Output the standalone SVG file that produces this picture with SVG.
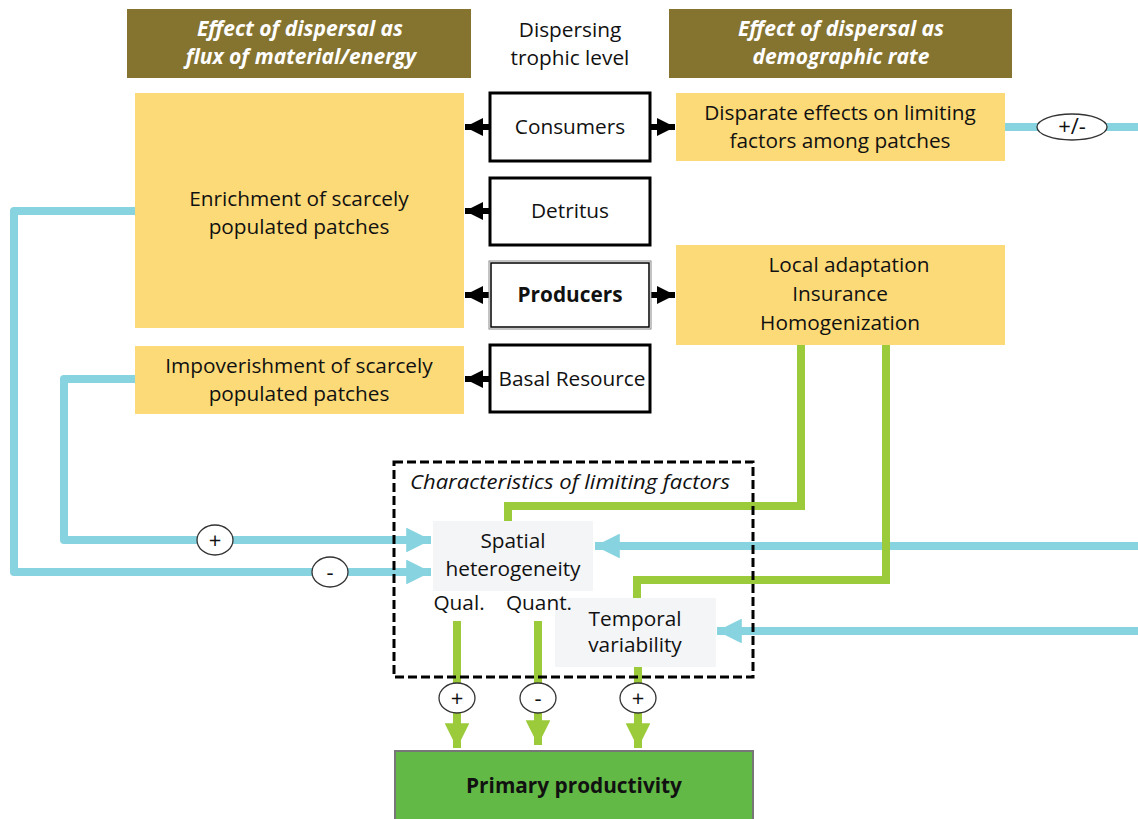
<svg xmlns="http://www.w3.org/2000/svg" width="1138" height="819" viewBox="0 0 1138 819">
<style>
text{font-family:"Open Sans","Noto Sans","Liberation Sans",sans-serif;font-size:20.8px;fill:#111;text-anchor:middle}
.hdr{fill:#857330}
.hdrt{fill:#fff;font-weight:bold;font-style:italic;font-size:21px}
.yel{fill:#FCDA78}
.lvl{fill:#fff;stroke:#000;stroke-width:3}
.gray{fill:#F4F5F7}
.blue{fill:none;stroke:#87D3DF;stroke-width:8}
.green{fill:none;stroke:#9BCB3B;stroke-width:8}
.blk{fill:none;stroke:#000;stroke-width:6}
.oval{fill:#fff;stroke:#333;stroke-width:1.3}
.sign{font-size:22px}
</style>
<defs>
<marker id="ab" viewBox="0 0 10 10" refX="10" refY="5" markerWidth="3" markerHeight="3" orient="auto" markerUnits="strokeWidth"><path d="M0,0L10,5L0,10z" fill="#000"/></marker>
<marker id="ablue" viewBox="0 0 10 10" refX="10" refY="5" markerWidth="3.1" markerHeight="3.1" orient="auto" markerUnits="strokeWidth"><path d="M0,0L10,5L0,10z" fill="#87D3DF"/></marker>
<marker id="agreen" viewBox="0 0 10 10" refX="10" refY="5" markerWidth="3.2" markerHeight="3.1" orient="auto" markerUnits="strokeWidth"><path d="M0,0L10,5L0,10z" fill="#9BCB3B"/></marker>
</defs>

<g id="header-flux"><rect class="hdr" x="127" y="9" width="344" height="69"/><text class="hdrt" x="300" y="36">Effect of dispersal as</text><text class="hdrt" x="301" y="64">flux of material/energy</text></g>
<g id="header-level"><text x="570" y="37">Dispersing</text><text x="570" y="65">trophic level</text></g>
<g id="header-demo"><rect class="hdr" x="669" y="9" width="343" height="69"/><text class="hdrt" x="841" y="36">Effect of dispersal as</text><text class="hdrt" x="841" y="64">demographic rate</text></g>

<g id="connectors">
<path class="blk" d="M489,127H465" marker-end="url(#ab)"/>
<path class="blk" d="M651,127H675" marker-end="url(#ab)"/>
<path class="blk" d="M489,211H465" marker-end="url(#ab)"/>
<path class="blk" d="M489,295H465" marker-end="url(#ab)"/>
<path class="blk" d="M651,295H675" marker-end="url(#ab)"/>
<path class="blk" d="M489,379H465" marker-end="url(#ab)"/>
<path class="blue" d="M1005,127H1138"/>
<path class="blue" d="M135,211H14V572H431" stroke-linejoin="round" marker-end="url(#ablue)"/>
<path class="blue" d="M135,379H64V540H431" stroke-linejoin="round" marker-end="url(#ablue)"/>
<path class="blue" d="M1138,546H595" marker-end="url(#ablue)"/>
<path class="blue" d="M1138,631H717" marker-end="url(#ablue)"/>
<path class="green" d="M801,345V506H508V521"/>
<path class="green" d="M886,345V580H637V598"/>
<path class="green" d="M457,621V748" marker-end="url(#agreen)"/>
<path class="green" d="M538,621V745" marker-end="url(#agreen)"/>
<path class="green" d="M638,667V748" marker-end="url(#agreen)"/>
<ellipse class="oval" cx="1072" cy="127" rx="35" ry="13"/><text class="sign" x="1072" y="134">+/-</text>
<ellipse class="oval" cx="215" cy="540" rx="18" ry="15"/><text class="sign" x="215" y="548">+</text>
<ellipse class="oval" cx="330" cy="572" rx="18" ry="15"/><text class="sign" x="330" y="580">-</text>
<ellipse class="oval" cx="457" cy="698" rx="18" ry="15"/><text class="sign" x="457" y="706">+</text>
<ellipse class="oval" cx="538" cy="698" rx="18" ry="15"/><text class="sign" x="538" y="706">-</text>
<ellipse class="oval" cx="638" cy="698" rx="18" ry="15"/><text class="sign" x="638" y="706">+</text>
</g>

<g id="enrichment"><rect class="yel" x="135" y="93" width="329" height="235"/><text x="299" y="206">Enrichment of scarcely</text><text x="299" y="234">populated patches</text></g>
<g id="impoverishment"><rect class="yel" x="135" y="346" width="329" height="68"/><text x="299" y="373">Impoverishment of scarcely</text><text x="299" y="401">populated patches</text></g>
<g id="consumers"><rect class="lvl" x="490" y="93" width="160" height="68"/><text x="570" y="134">Consumers</text></g>
<g id="detritus"><rect class="lvl" x="490" y="178" width="160" height="67"/><text x="570" y="218">Detritus</text></g>
<g id="producers"><rect x="489" y="261" width="162" height="68" fill="#fff" stroke="#888" stroke-width="1"/><rect x="491" y="263" width="158" height="64" fill="none" stroke="#000" stroke-width="1.5"/><text x="570" y="302" font-weight="bold">Producers</text></g>
<g id="basal"><rect class="lvl" x="490" y="345" width="160" height="67"/><text x="572" y="386">Basal Resource</text></g>
<g id="disparate"><rect class="yel" x="676" y="93" width="329" height="68"/><text x="840" y="120">Disparate effects on limiting</text><text x="840" y="148">factors among patches</text></g>
<g id="local"><rect class="yel" x="676" y="245" width="329" height="100"/><text x="849" y="272">Local adaptation</text><text x="840" y="301">Insurance</text><text x="840" y="330">Homogenization</text></g>

<g id="limiting-factors"><rect x="394" y="462" width="359" height="215" fill="none" stroke="#000" stroke-width="3" stroke-dasharray="9,4"/><text x="570" y="489" font-style="italic" textLength="320" lengthAdjust="spacingAndGlyphs">Characteristics of limiting factors</text></g>
<g id="temporal"><rect class="gray" x="555" y="598" width="161" height="69"/><text x="635" y="626">Temporal</text><text x="635" y="652">variability</text></g>
<g id="spatial"><rect class="gray" x="433" y="521" width="160" height="70"/><text x="513" y="548">Spatial</text><text x="513" y="576">heterogeneity</text><text x="459" y="610">Qual.</text><text x="539" y="610">Quant.</text></g>
<g id="productivity"><rect x="395" y="751" width="358" height="72" fill="#62B946" stroke="#777" stroke-width="2"/><text x="574" y="793" font-weight="bold">Primary productivity</text></g>
</svg>
